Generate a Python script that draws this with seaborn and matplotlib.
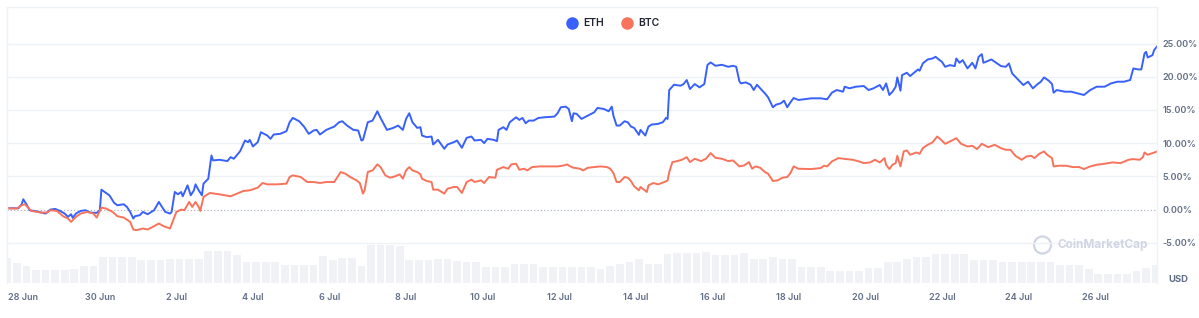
#!/usr/bin/env python3
import pandas as pd
import matplotlib.pyplot as plt
import seaborn as sns
from matplotlib.lines import Line2D
from matplotlib.patches import Circle

# hours since 27 Jun 14:00, % change since start
start = pd.Timestamp('2021-06-27 14:00')

eth_hours = [0, 7, 9, 10, 12, 14, 18, 24, 27, 30,
             33, 36, 38, 40, 41, 43, 46, 49, 52, 56,
             58, 59, 61, 64, 67, 69, 73, 75, 77, 79,
             80, 83, 85, 88, 92, 95, 97, 99, 102, 103,
             105, 107, 109, 110, 113, 115, 117, 118, 120, 122,
             123, 126, 128, 129, 133, 138, 140, 142, 146, 149,
             151, 152, 154, 157, 159, 163, 165, 167, 171, 175,
             177, 179, 183, 186, 189, 192, 194, 196, 200, 205,
             208, 210, 213, 217, 220, 222, 223, 226, 229, 232,
             234, 238, 242, 245, 248, 250, 252, 254, 257, 259,
             260, 263, 266, 267, 270, 274, 276, 280, 282, 285,
             288, 291, 293, 297, 299, 301, 305, 307, 308, 311,
             313, 315, 319, 321, 323, 325, 327, 330, 333, 337,
             343, 345, 347, 350, 352, 354, 355, 357, 360, 364,
             368, 370, 374, 377, 379, 380, 382, 384, 387, 389,
             391, 393, 396, 397, 400, 402, 404, 408, 411, 413,
             414, 415, 418, 422, 424, 426, 428, 431, 434, 437,
             439, 441, 444, 448, 452, 455, 457, 459, 460, 463,
             466, 468, 470, 473, 475, 477, 480, 482, 485, 487,
             489, 491, 493, 496, 504, 510, 514, 517, 520, 524,
             525, 528, 532, 537, 540, 543, 547, 549, 551, 553,
             555, 557, 558, 560, 561, 564, 566, 568, 571, 572,
             574, 577, 580, 582, 584, 586, 588, 591, 594, 595,
             597, 599, 602, 605, 607, 609, 611, 612, 617, 620,
             623, 626, 628, 630, 634, 637, 640, 643, 646, 648,
             650, 653, 655, 656, 658, 663, 667, 671, 675, 679,
             683, 688, 692, 696, 700, 704, 706, 709, 711, 713,
             714, 715, 718, 719, 721]
eth_pct = [0.2, 0.2, 0.8, 1.55, 0.8, -0.1, -0.25, -0.6, 0.0, 0.1,
           -0.2, -0.6, -1.1, -0.7, -1.25, -0.6, -0.2, -0.1, -0.45, -0.5,
           -0.1, 3.0, 2.65, 2.15, 1.0, 0.65, 0.8, 0.4, -0.35, -1.35,
           -1.0, -0.85, -0.35, -0.7, -0.1, 1.15, 0.4, -0.35, -0.6, -0.35,
           2.65, 2.3, 2.65, 2.0, 3.65, 2.15, 2.9, 3.8, 2.9, 2.15,
           3.9, 4.65, 8.15, 7.4, 7.5, 7.3, 7.9, 7.65, 8.8, 10.4,
           10.15, 10.5, 9.5, 10.15, 11.65, 11.15, 10.65, 11.3, 11.4, 11.8,
           13.15, 13.8, 13.3, 12.5, 11.4, 11.9, 12.0, 11.3, 12.0, 12.5,
           13.15, 13.3, 12.65, 12.0, 11.9, 10.4, 10.5, 13.15, 13.4, 14.8,
           13.8, 12.0, 12.3, 12.65, 12.0, 13.65, 14.5, 13.15, 12.3, 12.4,
           11.15, 10.9, 11.0, 9.8, 10.5, 9.15, 9.8, 10.15, 10.4, 9.3,
           10.8, 11.0, 10.4, 10.5, 10.0, 10.65, 10.5, 10.3, 12.0, 12.4,
           12.0, 13.15, 13.9, 13.5, 13.8, 13.0, 13.4, 13.4, 13.8, 13.9,
           14.0, 14.5, 15.4, 15.5, 15.15, 13.3, 14.5, 14.4, 13.65, 14.15,
           14.65, 15.3, 15.15, 14.8, 15.5, 14.15, 12.65, 12.65, 13.3, 13.15,
           12.5, 12.3, 11.25, 12.0, 11.15, 12.5, 12.8, 12.9, 13.15, 13.8,
           13.65, 18.0, 18.8, 18.65, 18.9, 19.5, 18.15, 18.9, 18.4, 18.9,
           21.8, 22.15, 21.65, 21.8, 21.5, 21.65, 21.5, 19.3, 19.0, 19.15,
           18.8, 18.0, 18.8, 18.0, 17.5, 16.9, 15.4, 15.8, 16.0, 16.4,
           15.4, 16.15, 16.8, 16.5, 16.75, 16.75, 16.6, 17.6, 18.0, 17.75,
           18.5, 18.25, 18.5, 18.6, 18.0, 18.25, 18.75, 18.0, 19.0, 17.25,
           17.75, 18.5, 19.9, 17.9, 20.25, 20.6, 20.1, 20.5, 21.1, 20.9,
           22.0, 22.6, 22.75, 23.0, 22.6, 22.25, 21.5, 21.75, 21.6, 22.75,
           22.1, 22.5, 21.25, 22.1, 21.25, 23.0, 23.4, 22.1, 22.6, 22.1,
           21.6, 21.5, 22.0, 20.5, 19.5, 18.75, 19.25, 18.25, 18.9, 19.25,
           19.9, 19.4, 18.9, 17.6, 18.0, 17.75, 17.75, 17.5, 17.25, 18.0,
           18.5, 18.5, 19.0, 19.25, 19.25, 19.5, 21.25, 21.1, 21.1, 23.5,
           23.75, 22.9, 23.25, 24.0, 24.6]

btc_hours = [0, 6, 9, 11, 13, 15, 21, 25, 27, 31,
             35, 38, 40, 43, 46, 50, 54, 56, 58, 59,
             62, 66, 69, 73, 77, 79, 81, 85, 88, 92,
             95, 98, 102, 104, 106, 109, 111, 114, 116, 118,
             120, 121, 123, 127, 133, 140, 144, 148, 152, 157,
             160, 163, 169, 175, 177, 179, 184, 188, 192, 196,
             200, 205, 209, 212, 215, 219, 221, 223, 224, 226,
             229, 232, 234, 237, 240, 243, 246, 248, 250, 252,
             254, 257, 259, 260, 263, 266, 267, 270, 274, 276,
             280, 282, 285, 288, 291, 293, 297, 299, 302, 306,
             307, 311, 314, 316, 319, 321, 324, 326, 329, 334,
             340, 345, 349, 351, 353, 355, 359, 361, 364, 368,
             372, 376, 378, 380, 382, 384, 387, 389, 391, 393,
             396, 397, 401, 402, 405, 408, 412, 414, 415, 417,
             420, 423, 426, 428, 431, 435, 438, 441, 444, 448,
             452, 455, 459, 462, 465, 467, 469, 472, 475, 477,
             480, 483, 486, 489, 491, 493, 496, 504, 510, 512,
             514, 517, 521, 526, 530, 534, 537, 541, 544, 547,
             550, 551, 553, 555, 557, 558, 560, 562, 564, 566,
             570, 572, 574, 577, 580, 583, 585, 588, 591, 595,
             598, 602, 605, 608, 611, 615, 619, 623, 626, 629,
             632, 636, 639, 642, 644, 647, 650, 652, 655, 656,
             659, 664, 668, 672, 675, 679, 683, 688, 693, 698,
             703, 706, 710, 712, 713, 715, 718, 721]
btc_pct = [0.2, 0.15, 0.65, 0.8, 0.3, -0.2, -0.45, -0.45, -0.1, -0.2,
           -1.0, -1.35, -1.85, -1.1, -0.6, -0.35, -0.6, -1.2, -0.2, 0.3,
           0.15, -0.35, -1.0, -1.2, -1.85, -3.0, -3.1, -2.85, -3.0, -2.5,
           -2.1, -2.5, -2.85, -1.6, -0.35, 0.0, -0.1, 1.15, 0.4, 1.15,
           0.4, -0.2, 1.9, 2.5, 2.3, 2.0, 2.4, 2.8, 2.9, 3.3,
           4.0, 3.8, 3.8, 3.9, 4.9, 5.15, 4.9, 4.15, 4.15, 4.0,
           4.15, 4.15, 5.65, 5.4, 4.9, 4.4, 4.0, 2.4, 2.9, 5.65,
           5.9, 6.8, 6.4, 5.15, 4.8, 5.0, 5.3, 4.65, 5.9, 6.4,
           5.9, 5.65, 5.3, 4.65, 4.3, 4.15, 3.0, 3.0, 2.4, 3.15,
           3.4, 3.4, 2.5, 4.15, 4.5, 4.15, 4.4, 4.0, 4.9, 4.8,
           6.0, 6.4, 6.15, 6.8, 6.9, 6.0, 6.15, 5.9, 6.4, 6.5,
           6.5, 6.5, 6.65, 6.8, 6.5, 6.3, 6.15, 5.9, 6.3, 6.4,
           6.5, 6.4, 6.15, 5.5, 4.15, 4.15, 4.9, 4.8, 4.3, 3.5,
           2.9, 3.4, 2.65, 3.65, 4.0, 3.8, 4.15, 4.4, 5.65, 7.15,
           7.3, 7.5, 7.9, 7.15, 7.65, 7.3, 7.65, 8.5, 7.8, 7.65,
           7.3, 7.4, 6.5, 6.65, 7.15, 6.15, 6.5, 6.3, 5.65, 5.4,
           4.3, 4.4, 4.8, 4.9, 5.5, 6.5, 6.15, 6.1, 6.25, 6.6,
           6.5, 7.25, 7.75, 7.6, 7.5, 7.25, 7.0, 7.1, 7.5, 7.1,
           7.75, 6.75, 6.1, 6.75, 7.0, 8.1, 6.5, 8.75, 8.9, 8.25,
           8.6, 8.4, 9.25, 9.75, 10.1, 11.0, 10.6, 9.9, 10.25, 10.75,
           9.9, 9.5, 9.6, 9.1, 9.9, 9.4, 9.75, 9.25, 9.0, 9.0,
           8.1, 7.5, 8.0, 8.1, 7.75, 8.4, 8.75, 8.25, 7.75, 6.5,
           6.6, 6.6, 6.4, 6.4, 6.1, 6.5, 6.75, 6.9, 7.1, 7.0,
           7.5, 7.6, 7.5, 7.9, 8.6, 8.25, 8.5, 8.75]

# relative volume, one value every 6 hours
volume = [25, 20, 17, 13, 13, 13, 13, 14, 17, 17,
          26, 26, 26, 26, 23, 23, 23, 24, 24, 24,
          24, 32, 32, 32, 28, 21, 21, 21, 21, 18,
          18, 18, 18, 27, 23, 25, 25, 17, 38, 38,
          38, 37, 23, 23, 23, 24, 24, 22, 21, 21,
          16, 16, 16, 19, 19, 19, 16, 16, 16, 16,
          16, 16, 14, 17, 19, 21, 24, 19, 19, 29,
          30, 30, 30, 31, 28, 28, 28, 30, 24, 24,
          26, 24, 24, 16, 16, 16, 12, 12, 12, 12,
          15, 15, 21, 21, 24, 26, 26, 29, 29, 29,
          29, 23, 23, 23, 21, 21, 21, 21, 21, 21,
          18, 18, 18, 14, 9, 9, 9, 9, 12, 15,
          18]

tick_dates = ['2021-06-28', '2021-06-30', '2021-07-02', '2021-07-04', '2021-07-06',
              '2021-07-08', '2021-07-10', '2021-07-12', '2021-07-14', '2021-07-16',
              '2021-07-18', '2021-07-20', '2021-07-22', '2021-07-24', '2021-07-26']
tick_labels = ['28 Jun', '30 Jun', '2 Jul', '4 Jul', '6 Jul', '8 Jul', '10 Jul', '12 Jul',
               '14 Jul', '16 Jul', '18 Jul', '20 Jul', '22 Jul', '24 Jul', '26 Jul']
pct_ticks = [-5, 0, 5, 10, 15, 20, 25]

colors = {'ETH': '#3861fb', 'BTC': '#f8735b'}
grey = '#616e85'


def series_frame(coin, hours, pct):
    return pd.DataFrame({'time': start + pd.to_timedelta(hours, unit='h'),
                         'pct': pct, 'coin': coin})


df = pd.concat([series_frame('ETH', eth_hours, eth_pct),
                series_frame('BTC', btc_hours, btc_pct)], ignore_index=True)

sns.set_style('white')
plt.rcParams['font.family'] = ['Inter', 'DejaVu Sans']

fig = plt.figure(figsize=(11.99, 3.18), dpi=100)
ax = fig.add_axes([0.0061, 0.1091, 0.9591, 0.8689])
vax = ax.twinx()
ax.set_zorder(vax.get_zorder() + 1)
ax.patch.set_visible(False)

# volume strip at the bottom
vol_times = start + pd.to_timedelta([6 * i for i in range(len(volume))], unit='h')
vax.bar(vol_times, volume, width=pd.Timedelta(hours=4.8), color='#f0f2f5', linewidth=0)
vax.set_ylim(0, 276)
vax.set_yticks([])
for s in vax.spines.values():
    s.set_visible(False)

sns.lineplot(data=df, x='time', y='pct', hue='coin', palette=colors,
             linewidth=1.4, legend=False, ax=ax)

ax.set_xlim(start, start + pd.Timedelta(hours=721))
ax.set_ylim(-11.1, 30.5)
ax.set_xlabel('')
ax.set_ylabel('')

ax.yaxis.tick_right()
ax.set_yticks(pct_ticks)
ax.set_yticklabels([f'{v:.2f}%' for v in pct_ticks])
ax.set_xticks(pd.to_datetime(tick_dates))
ax.set_xticklabels(tick_labels)
ax.tick_params(axis='y', length=0, pad=3.5, labelsize=6.5, labelcolor=grey)
ax.tick_params(axis='x', length=0, pad=7, labelsize=6.5, labelcolor=grey)
for lab in ax.get_yticklabels() + ax.get_xticklabels():
    lab.set_fontweight('semibold')

ax.grid(axis='y', color='#eff2f5', linewidth=1)
ax.grid(axis='x', visible=False)
zero_line = ax.get_ygridlines()[pct_ticks.index(0)]
zero_line.set_color('#a3abbd')
zero_line.set_linestyle((0, (1, 2)))
zero_line.set_linewidth(0.8)

for side in ['left', 'right', 'top']:
    ax.spines[side].set_color('#eff2f5')
    ax.spines[side].set_linewidth(1)
ax.spines['bottom'].set_visible(False)

handles = [Line2D([], [], marker='o', linestyle='', markersize=8,
                  markerfacecolor=colors[c], markeredgecolor=colors[c], label=c)
           for c in ['ETH', 'BTC']]
fig.legend(handles=handles, loc='center', bbox_to_anchor=(0.509, 0.927), ncol=2,
           frameon=False, handletextpad=0.1, columnspacing=1.2,
           prop={'size': 7.5, 'weight': 'semibold'}, labelcolor='#222531')

fig.text(1178 / 1199, 1 - 280 / 318, 'USD', ha='center', va='center',
         fontsize=6.8, fontweight='bold', color=grey)

# watermark
fig.add_artist(Circle((10.425, 0.73), 0.085, transform=fig.dpi_scale_trans,
                      fill=False, edgecolor='#cfd5e3', linewidth=1.6))
fig.text(1058 / 1199, 1 - 245 / 318, 'CoinMarketCap', ha='left', va='center',
         fontsize=8.5, fontweight='bold', color='#cfd5e3')

fig.savefig('out.png', dpi=100)
